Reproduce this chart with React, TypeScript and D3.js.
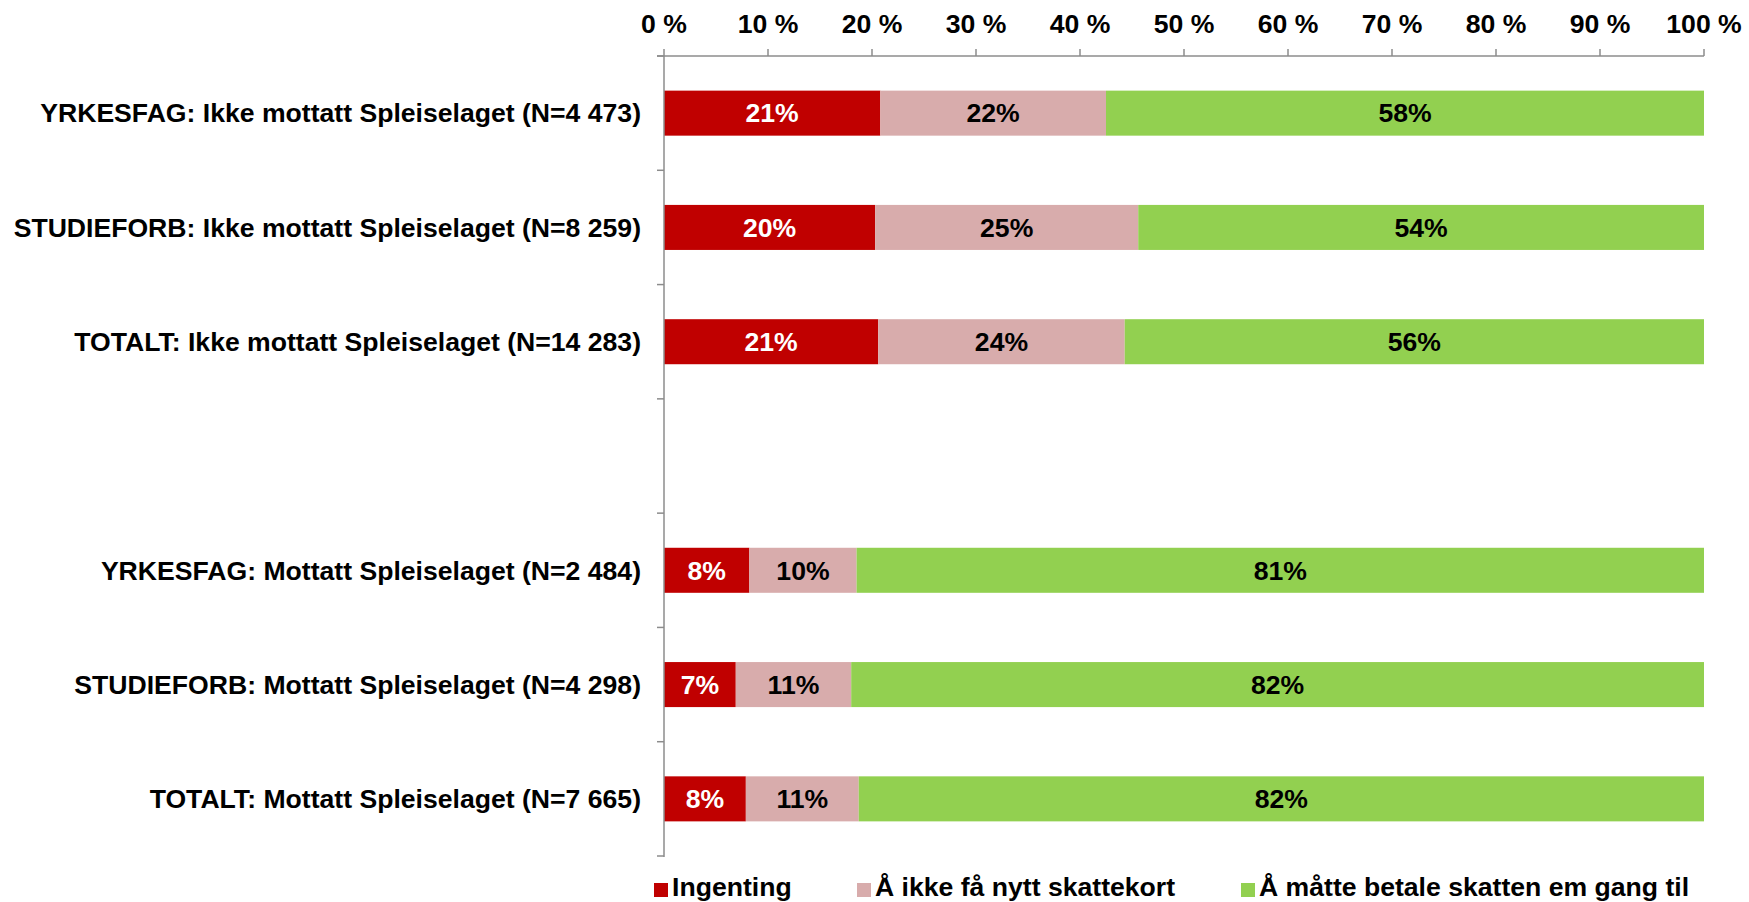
import React from "react";
import * as d3 from "d3";

const categories = [
  "YRKESFAG: Ikke mottatt Spleiselaget (N=4 473)",
  "STUDIEFORB: Ikke mottatt Spleiselaget (N=8 259)",
  "TOTALT: Ikke mottatt Spleiselaget (N=14 283)",
  "",
  "YRKESFAG: Mottatt Spleiselaget (N=2 484)",
  "STUDIEFORB: Mottatt Spleiselaget (N=4 298)",
  "TOTALT: Mottatt Spleiselaget (N=7 665)",
];

const seriesNames = [
  "Ingenting",
  "Å ikke få nytt skattekort",
  "Å måtte betale skatten em gang til",
];

const ingenting = [20.8, 20.3, 20.6, null, 8.2, 6.9, 7.9];
const ikkeSkattekort = [21.7, 25.3, 23.7, null, 10.3, 11.1, 10.9];
const betaleSkatten = [57.5, 54.4, 55.7, null, 81.4, 82.0, 81.6];

const xTicks = [0, 10, 20, 30, 40, 50, 60, 70, 80, 90, 100];
const xTickLabels = xTicks.map((t) => `${t} %`);

const colors = ["#C00000", "#D8ACAC", "#92D050"];
const labelColors = ["#FFFFFF", "#000000", "#000000"];

const W = 1749;
const H = 902;
const FONT = "'Liberation Sans', Arial, Helvetica, sans-serif";
const FS = 26.6;

export default function App() {
  const x = d3.scaleLinear().domain([0, 100]).range([664, 1704]);
  const y = d3
    .scaleBand<string>()
    .domain(categories.map((c, i) => `${i}`))
    .range([56, 856])
    .paddingInner(0.606)
    .paddingOuter(0.303);

  const series = [ingenting, ikkeSkattekort, betaleSkatten];
  const rows = categories.map((c, i) => {
    const vals = series.map((s) => s[i]);
    if (vals.some((v) => v == null)) return null;
    const total = d3.sum(vals as number[]);
    let acc = 0;
    return vals.map((v, k) => {
      const start = (acc / total) * 100;
      acc += v as number;
      const end = (acc / total) * 100;
      return { k, v: v as number, start, end };
    });
  });

  const step = y.step();
  const boundaries = d3.range(categories.length + 1).map((i) => 56 + i * step);
  const axisColor = "#8C8C8C";

  const legendX = [654, 857, 1241];

  return (
    <svg
      width={W}
      height={H}
      style={{ position: "absolute", left: 0, top: 0, background: "#fff" }}
      fontFamily={FONT}
      fontWeight="bold"
    >
      {/* bars */}
      {rows.map((row, i) =>
        row
          ? row.map((seg) => (
              <g key={`${i}-${seg.k}`}>
                <rect
                  x={x(seg.start)}
                  y={y(`${i}`)}
                  width={x(seg.end) - x(seg.start)}
                  height={y.bandwidth()}
                  fill={colors[seg.k]}
                />
                <text
                  x={(x(seg.start) + x(seg.end)) / 2}
                  y={(y(`${i}`) as number) + y.bandwidth() / 2}
                  dy="0.35em"
                  textAnchor="middle"
                  fontSize={FS}
                  fill={labelColors[seg.k]}
                >
                  {`${Math.round(seg.v)}%`}
                </text>
              </g>
            ))
          : null
      )}

      {/* top axis */}
      <line x1={x(0) - 7} x2={x(100)} y1={56} y2={56} stroke={axisColor} strokeWidth={1.5} />
      {xTicks.map((t, i) => (
        <g key={t}>
          <line x1={x(t)} x2={x(t)} y1={49} y2={56} stroke={axisColor} strokeWidth={1.5} />
          <text x={x(t)} y={33} textAnchor="middle" fontSize={FS} fill="#000">
            {xTickLabels[i]}
          </text>
        </g>
      ))}

      {/* left axis */}
      <line x1={x(0)} x2={x(0)} y1={56} y2={857} stroke={axisColor} strokeWidth={1.5} />
      {boundaries.map((b, i) => (
        <line key={i} x1={x(0) - 7} x2={x(0)} y1={b} y2={b} stroke={axisColor} strokeWidth={1.5} />
      ))}
      {categories.map((c, i) =>
        c ? (
          <text
            key={i}
            x={641}
            y={(y(`${i}`) as number) + y.bandwidth() / 2}
            dy="0.35em"
            textAnchor="end"
            fontSize={FS}
            fill="#000"
          >
            {c}
          </text>
        ) : null
      )}

      {/* legend */}
      {seriesNames.map((s, k) => (
        <g key={s}>
          <rect x={legendX[k]} y={883} width={14} height={14} fill={colors[k]} />
          <text x={legendX[k] + 18} y={896} fontSize={FS} fill="#000">
            {s}
          </text>
        </g>
      ))}
    </svg>
  );
}
